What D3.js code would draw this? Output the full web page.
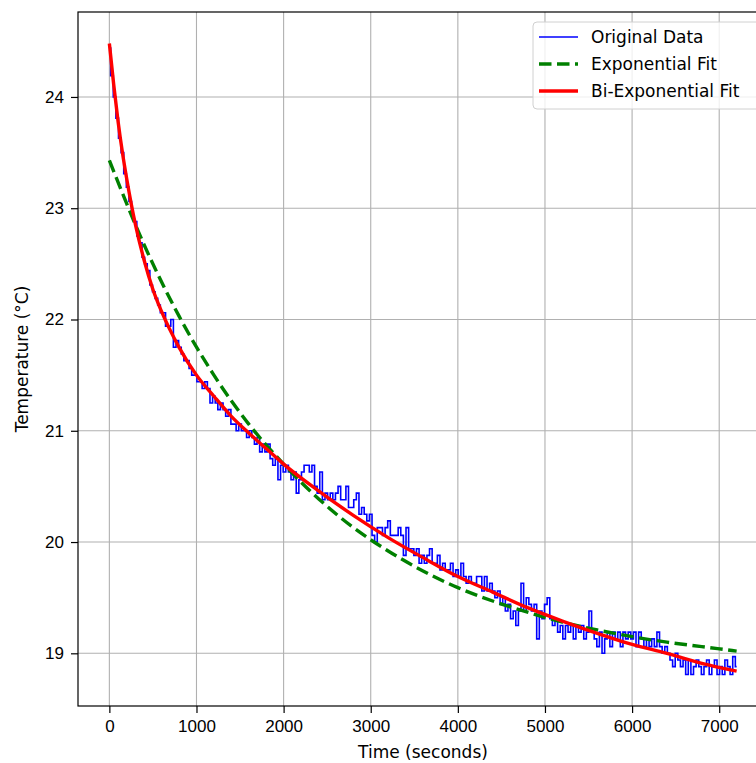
<!DOCTYPE html>
<html>
<head>
<meta charset="utf-8">
<script src="https://d3js.org/d3.v7.min.js"></script>
<style>
  body { margin: 0; background: #fff; }
  svg { display: block; font-family: "DejaVu Sans", sans-serif; }
  .grid line { stroke: #b0b0b0; stroke-width: 1.1; }
  .axis text { font-size: 17px; fill: #000; }
  .axis line, .axis path { stroke: #000; stroke-width: 1.2; }
</style>
</head>
<body>
<svg id="chart"></svg>
<script>
// measured sample every 30 s, from 0 to 7200 s
var sampleStep = 30;
var originalTemps = [
  24.44, 24.19, 24.00, 23.81, 23.63, 23.50, 23.31, 23.19, 23.06, 22.94,
  22.88, 22.75, 22.69, 22.56, 22.50, 22.44, 22.31, 22.25, 22.19, 22.13,
  22.06, 22.06, 21.94, 21.94, 22.00, 21.75, 21.81, 21.75, 21.69, 21.63,
  21.63, 21.56, 21.50, 21.50, 21.44, 21.44, 21.38, 21.44, 21.38, 21.25,
  21.31, 21.25, 21.19, 21.25, 21.19, 21.13, 21.19, 21.06, 21.06, 21.00,
  21.06, 21.00, 21.00, 20.94, 21.00, 20.94, 20.88, 20.94, 20.81, 20.88,
  20.81, 20.88, 20.75, 20.69, 20.75, 20.56, 20.69, 20.63, 20.69, 20.63,
  20.56, 20.63, 20.44, 20.56, 20.63, 20.69, 20.69, 20.63, 20.69, 20.50,
  20.44, 20.63, 20.38, 20.44, 20.38, 20.44, 20.38, 20.44, 20.50, 20.38,
  20.38, 20.50, 20.31, 20.31, 20.38, 20.44, 20.25, 20.31, 20.25, 20.19,
  20.25, 20.06, 20.00, 20.13, 20.13, 20.06, 20.13, 20.19, 20.06, 20.06,
  20.06, 20.13, 20.06, 19.88, 20.13, 19.94, 19.94, 19.88, 19.94, 19.81,
  19.88, 19.81, 19.88, 19.94, 19.81, 19.81, 19.88, 19.75, 19.81, 19.75,
  19.75, 19.81, 19.69, 19.75, 19.69, 19.81, 19.69, 19.63, 19.69, 19.63,
  19.63, 19.69, 19.69, 19.56, 19.69, 19.56, 19.63, 19.56, 19.50, 19.56,
  19.44, 19.50, 19.38, 19.44, 19.31, 19.38, 19.25, 19.38, 19.63, 19.38,
  19.50, 19.44, 19.38, 19.44, 19.13, 19.38, 19.31, 19.44, 19.50, 19.31,
  19.25, 19.31, 19.19, 19.25, 19.13, 19.25, 19.19, 19.25, 19.13, 19.25,
  19.19, 19.25, 19.13, 19.19, 19.38, 19.19, 19.13, 19.06, 19.19, 19.00,
  19.13, 19.19, 19.06, 19.19, 19.13, 19.19, 19.06, 19.19, 19.13, 19.19,
  19.13, 19.19, 19.06, 19.19, 19.13, 19.06, 19.13, 19.06, 19.13, 19.06,
  19.19, 19.06, 19.00, 19.06, 19.00, 18.94, 18.88, 19.00, 18.94, 18.88,
  18.94, 18.81, 18.94, 18.81, 18.88, 18.94, 18.88, 18.81, 18.88, 18.94,
  18.81, 18.88, 18.94, 18.81, 18.88, 18.81, 18.94, 18.88, 18.81, 18.97,
  18.88
];

var expTimes = [0, 400, 800, 1200, 1600, 2000, 2400, 2800, 3200, 3600,
  4000, 4400, 4800, 5200, 5600, 6000, 6400, 6800, 7200];
var expTemps = [23.43, 22.67, 22.03, 21.50, 21.06, 20.70, 20.39, 20.13, 19.92, 19.74,
  19.59, 19.47, 19.37, 19.28, 19.21, 19.15, 19.10, 19.06, 19.02];

var biExpTimes = [0, 50, 100, 150, 200, 300, 400, 500, 600, 800, 1000, 1200, 1400,
  1600, 1800, 2000, 2400, 2800, 3200, 3600, 4000, 4400, 4800, 5200, 5600, 6000,
  6400, 6800, 7200];
var biExpTemps = [24.48, 24.11, 23.78, 23.50, 23.26, 22.85, 22.53, 22.27, 22.07, 21.75,
  21.50, 21.31, 21.13, 20.98, 20.84, 20.70, 20.46, 20.24, 20.04, 19.86, 19.69,
  19.55, 19.41, 19.29, 19.18, 19.08, 19.00, 18.91, 18.84];

var xTicks = [0, 1000, 2000, 3000, 4000, 5000, 6000, 7000];
var yTicks = [19, 20, 21, 22, 23, 24];
var legendLabels = ["Original Data", "Exponential Fit", "Bi-Exponential Fit"];

var margin = {top: 12, left: 78};
var width = 690, height = 694;

var original = originalTemps.map(function(v, i) { return {t: i * sampleStep, v: v}; });
var expFit = expTimes.map(function(t, i) { return {t: t, v: expTemps[i]}; });
var biExpFit = biExpTimes.map(function(t, i) { return {t: t, v: biExpTemps[i]}; });

// matplotlib style 5% padding around the data
var tExt = [0, d3.max(original, function(d) { return d.t; })];
var allV = originalTemps.concat(expTemps, biExpTemps);
var vExt = d3.extent(allV);
var tPad = (tExt[1] - tExt[0]) * 0.05, vPad = (vExt[1] - vExt[0]) * 0.05;

var x = d3.scaleLinear().domain([tExt[0] - tPad, tExt[1] + tPad]).range([0, width]);
var y = d3.scaleLinear().domain([vExt[0] - vPad, vExt[1] + vPad]).range([height, 0]);

var svg = d3.select("#chart")
    .attr("width", 756)
    .attr("height", 763)
  .append("g")
    .attr("transform", "translate(" + margin.left + "," + margin.top + ")");

// grid
svg.append("g").attr("class", "grid")
  .selectAll("line").data(xTicks).enter().append("line")
    .attr("x1", function(d) { return x(d); }).attr("x2", function(d) { return x(d); })
    .attr("y1", 0).attr("y2", height);
svg.append("g").attr("class", "grid")
  .selectAll("line").data(yTicks).enter().append("line")
    .attr("y1", function(d) { return y(d); }).attr("y2", function(d) { return y(d); })
    .attr("x1", 0).attr("x2", width);

// sensor readings are quantised, so draw them as steps
var stepLine = d3.line()
  .x(function(d) { return x(d.t); })
  .y(function(d) { return y(d.v); })
  .curve(d3.curveStep);
var smooth = d3.line()
  .x(function(d) { return x(d.t); })
  .y(function(d) { return y(d.v); })
  .curve(d3.curveMonotoneX);

svg.append("path").datum(original)
  .attr("d", stepLine)
  .attr("fill", "none").attr("stroke", "#0000ff").attr("stroke-width", 1.6);
svg.append("path").datum(expFit)
  .attr("d", smooth)
  .attr("fill", "none").attr("stroke", "#008000").attr("stroke-width", 3.4)
  .attr("stroke-dasharray", "12.5,5.5");
svg.append("path").datum(biExpFit)
  .attr("d", smooth)
  .attr("fill", "none").attr("stroke", "#ff0000").attr("stroke-width", 3.4);

// axes
svg.append("g").attr("class", "axis")
  .attr("transform", "translate(0," + height + ")")
  .call(d3.axisBottom(x).tickValues(xTicks).tickSize(7).tickPadding(7).tickFormat(d3.format("d")));
svg.append("g").attr("class", "axis")
  .call(d3.axisLeft(y).tickValues(yTicks).tickSize(7).tickPadding(7).tickFormat(d3.format("d")));
svg.selectAll(".axis .domain").attr("d", null);

// frame
svg.append("rect")
  .attr("width", width).attr("height", height)
  .attr("fill", "none").attr("stroke", "#000").attr("stroke-width", 1.2);

svg.append("text")
  .attr("x", width / 2).attr("y", height + 52)
  .style("text-anchor", "middle").style("font-size", "17px")
  .text("Time (seconds)");
svg.append("text")
  .attr("transform", "rotate(-90)")
  .attr("x", -height / 2).attr("y", -50)
  .style("text-anchor", "middle").style("font-size", "17px")
  .text("Temperature (°C)");

// legend
var legend = svg.append("g").attr("transform", "translate(" + (533 - margin.left) + "," + (22 - margin.top) + ")");
legend.append("rect")
  .attr("width", 228).attr("height", 87).attr("rx", 4)
  .attr("fill", "#fff").attr("fill-opacity", 0.8)
  .attr("stroke", "#d0d0d0").attr("stroke-width", 1);
var styles = [
  {color: "#0000ff", w: 1.5, dash: null},
  {color: "#008000", w: 3.4, dash: "12.5,5.5"},
  {color: "#ff0000", w: 3.4, dash: null}
];
var rows = legend.selectAll("g.row").data(legendLabels).enter().append("g")
  .attr("transform", function(d, i) { return "translate(0," + (15 + i * 27) + ")"; });
rows.append("line")
  .attr("x1", 6).attr("x2", 45)
  .attr("stroke", function(d, i) { return styles[i].color; })
  .attr("stroke-width", function(d, i) { return styles[i].w; })
  .attr("stroke-dasharray", function(d, i) { return styles[i].dash; });
rows.append("text")
  .attr("x", 58).attr("dy", "0.35em")
  .style("font-size", "17px")
  .text(function(d) { return d; });
</script>
</body>
</html>
